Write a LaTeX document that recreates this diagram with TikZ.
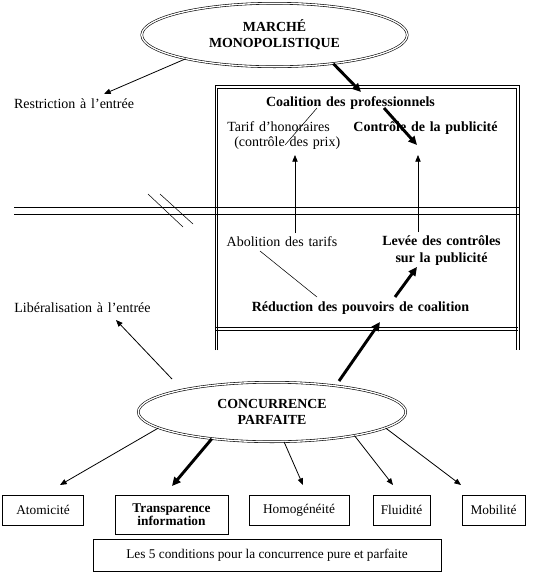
\documentclass[tikz,border=0pt]{standalone}
\usepackage{fontspec}
\setmainfont{Liberation Serif}
\usetikzlibrary{arrows.meta,shapes.geometric,calc}
\newcommand{\upfont}{\fontsize{10.5}{12}\selectfont\spaceskip=0.34em plus 0.1em}
\begin{document}
\begin{tikzpicture}[x=0.75pt,y=-0.75pt,
  ln/.style={line width=0.6pt},
  hair/.style={line width=0.4pt},
  arr/.style={line width=0.6pt,-{Triangle[length=5pt,width=4pt]}},
  bigarr/.style={line width=2.2pt,-{Triangle[length=6.5pt,width=6pt]}},
  dell/.style={ellipse,draw,double,double distance=1pt,line width=0.45pt,inner sep=0pt,font={\fontsize{10.4}{12}\selectfont\bfseries},align=center},
  txt/.style={inner sep=0pt,align=center,font=\upfont},
  btxt/.style={inner sep=0pt,align=center,font={\upfont\bfseries}},
  bx/.style={draw,line width=0.6pt,inner sep=0pt,align=center}]
\useasboundingbox (0,0) rectangle (542,572);

% ellipses
\node[dell,minimum width=199.1pt,minimum height=47.6pt] (mm) at (274.5,35) {MARCHÉ\\MONOPOLISTIQUE};
\node[dell,minimum width=200.6pt,minimum height=44.6pt] (cp) at (272,412) {CONCURRENCE\\PARFAITE};

% frame of the box
\draw[ln] (215,350) -- (215,85) -- (519,85) -- (519,350);
\draw[ln] (217.5,350) -- (217.5,88) -- (516.5,88) -- (516.5,350);
\draw[ln] (14,207) -- (519,207);
\draw[ln] (14,214) -- (519,214);
\draw[ln] (216,327) -- (518,327);
\draw[ln] (216,330) -- (518,330);
\draw[hair] (148,194) -- (183,227);
\draw[hair] (160,194) -- (193,224);

% texts
\node[txt] (restr) at (74,104) {Restriction à l’entrée};
\node[btxt] (coal) at (350.5,103) {Coalition des professionnels};
\node[txt,align=left,anchor=west,font={\fontsize{10.5}{11.25}\selectfont\spaceskip=0.34em plus 0.1em}] (tarif) at (227,135.5) {Tarif d’honoraires\\\hspace*{5.25pt}(contrôle des prix)};
\node[btxt] (ctrl) at (425.5,128) {Contrôle de la publicité};
\node[txt] (abol) at (282,242) {Abolition des tarifs};
\node[btxt,font={\fontsize{10.5}{12.5}\selectfont\bfseries\spaceskip=0.34em plus 0.1em}] (levee) at (441.5,250.5) {Levée des contrôles\\sur la publicité};
\node[btxt] (reduc) at (360.5,308) {Réduction des pouvoirs de coalition};
\node[txt] (liber) at (82.5,308) {Libéralisation à l’entrée};

% bottom boxes
\node[bx,minimum width=60.75pt,minimum height=22.5pt] (atom) at (43,510) {Atomicité};
\node[bx,minimum width=84.75pt,minimum height=29.25pt,font={\fontsize{10}{10}\selectfont\bfseries}] (trans) at (171.5,514.5) {Transparence\\information};
\node[bx,minimum width=75pt,minimum height=22.5pt] (homo) at (299,510) {Homogénéité};
\node[bx,minimum width=42.75pt,minimum height=22.5pt] (flui) at (401.5,510) {Fluidité};
\node[bx,minimum width=47.25pt,minimum height=22.5pt] (mob) at (493.5,510) {Mobilité};
\node[bx,minimum width=261pt,minimum height=24pt] (cinq) at (267,555) {Les 5 conditions pour la concurrence pure et parfaite};

% free ends of the connectors
\coordinate (tRestr) at (104,94);
\coordinate (tCoal) at (361,92);
\coordinate (sCtrl) at (384,108);
\coordinate (tCtrl) at (417,145);
\coordinate (sCoalLine) at (317,108);
\coordinate (tCoalLine) at (285,145);
\coordinate (sAbolUp) at (295,233);
\coordinate (tAbolUp) at (295,155);
\coordinate (sLevUp) at (418,232);
\coordinate (tLevUp) at (418,155);
\coordinate (sAbolLine) at (260,251);
\coordinate (tAbolLine) at (317,297);
\coordinate (sRedLev) at (395,297);
\coordinate (tRedLev) at (417,267);
\coordinate (tRed) at (380,322);
\coordinate (sLib) at (172,379);
\coordinate (tLib) at (116,320);
\coordinate (tAtom) at (60,485);
\coordinate (tTrans) at (172,486);
\coordinate (tHomo) at (303,485);
\coordinate (tFlui) at (393,485);
\coordinate (tMob) at (461,485);

% connectors
\draw[arr] (mm.195) -- (tRestr);
\draw[bigarr] (mm.-26) -- (tCoal);
\draw[bigarr] (sCtrl) -- (tCtrl);
\draw[hair] (sCoalLine) -- (tCoalLine);
\draw[arr] (sAbolUp) -- (tAbolUp);
\draw[arr] (sLevUp) -- (tLevUp);
\draw[hair] (sAbolLine) -- (tAbolLine);
\draw[bigarr] (sRedLev) -- (tRedLev);
\draw[bigarr] ($(cp.center)+(67,-31)$) -- (tRed);
\draw[arr] (sLib) -- (tLib);
\draw[arr] (cp.188) -- (tAtom);
\draw[bigarr] (cp.204) -- (tTrans);
\draw[arr] (cp.292) -- (tHomo);
\draw[arr] (cp.-16) -- (tFlui);
\draw[arr] (cp.-8) -- (tMob);
\end{tikzpicture}
\end{document}
